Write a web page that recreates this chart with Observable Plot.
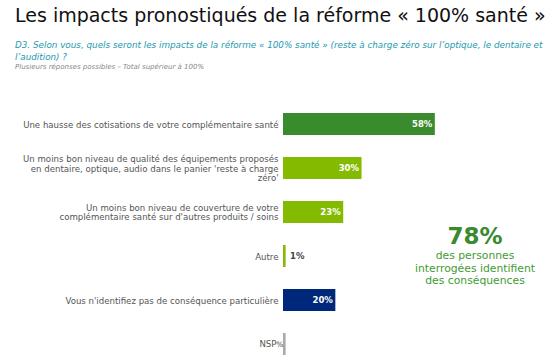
<!DOCTYPE html>
<html><head><meta charset="utf-8">
<script src="https://cdn.jsdelivr.net/npm/d3@7"></script>
<script src="https://cdn.jsdelivr.net/npm/@observablehq/plot@0.6"></script>
<style>
body{margin:0;background:#fff;width:550px;height:361px;overflow:hidden;font-family:"DejaVu Sans",sans-serif;position:relative}
#hdr{height:70px;position:relative}
#title{position:absolute;left:15px;top:4px;font-size:19px;color:#111;white-space:nowrap}
#sub{position:absolute;left:15px;top:39px;font-size:8.8px;line-height:12px;color:#1a9ab0;font-style:italic;width:540px;white-space:nowrap}
#note{position:absolute;left:15px;top:63px;font-size:7px;color:#888;font-style:italic;white-space:nowrap}
#ann{position:absolute;left:400px;top:223px;width:150px;text-align:center;color:#3f9a35;font-size:10.8px;line-height:12.5px}
#ann b{display:block;font-size:23px;line-height:27px;color:#3a8a2e}
</style></head><body>
<div id="hdr">
<div id="title">Les impacts pronostiqués de la réforme « 100% santé »</div>
<div id="sub">D3. Selon vous, quels seront les impacts de la réforme « 100% santé » (reste à charge zéro sur l’optique, le dentaire et<br>l’audition) ?</div>
<div id="note">Plusieurs réponses possibles – Total supérieur à 100%</div>
</div>
<div id="chart"></div>
<div id="ann"><b>78%</b>des personnes<br>interrogées identifient<br>des conséquences</div>
<script>
const categories = [
  "Une hausse des cotisations de votre complémentaire santé",
  "Un moins bon niveau de qualité des équipements proposés\nen dentaire, optique, audio dans le panier 'reste à charge\nzéro'",
  "Un moins bon niveau de couverture de votre\ncomplémentaire santé sur d'autres produits / soins",
  "Autre",
  "Vous n'identifiez pas de conséquence particulière",
  "NSP"
];
const values = [58, 30, 23, 1, 20, 1];
const valueLabels = ["58%", "30%", "23%", "1%", "20%", "%"];
const colors = ["#3a8a2e", "#84bb00", "#84bb00", "#84bb00", "#00287a", "#aaaaaa"];

const data = categories.map((c, i) => ({cat: c, v: values[i], lab: valueLabels[i], col: colors[i]}));
const inside = data.filter(d => d.v >= 5);
const outside = data.filter(d => d.v < 5 && d.cat !== "NSP");
const nsp = data.filter(d => d.cat === "NSP");
const others = data.filter(d => d.cat !== "NSP");

const chart = Plot.plot({
  width: 550, height: 291,
  marginLeft: 283, marginRight: 0, marginTop: 42, marginBottom: 5,
  x: {domain: [0, 102], axis: null},
  y: {domain: categories, axis: null, paddingInner: 0.5, paddingOuter: 0},
  style: {fontFamily: "DejaVu Sans, sans-serif", background: "#fff"},
  marks: [
    Plot.barX(data, {y: "cat", x: "v", fill: "col"}),
    Plot.text(others, {y: "cat", x: 0, text: "cat", textAnchor: "end", dx: -5, fontSize: 8.6, fill: "#555", lineHeight: 1.13}),
    Plot.text(nsp, {y: "cat", x: 0, text: "cat", textAnchor: "end", dx: -7, fontSize: 8.6, fill: "#555"}),
    Plot.text(inside, {y: "cat", x: "v", text: "lab", textAnchor: "end", dx: -3, fontSize: 8.5, fontWeight: "bold", fill: "#fff"}),
    Plot.text(outside, {y: "cat", x: "v", text: "lab", textAnchor: "start", dx: 4, fontSize: 8.5, fontWeight: "bold", fill: "#444"}),
    Plot.text(nsp, {y: "cat", x: 0, text: "lab", textAnchor: "end", dx: 0, fontSize: 7.5, fill: "#444"})
  ]
});
document.getElementById("chart").appendChild(chart);
</script>
</body></html>
